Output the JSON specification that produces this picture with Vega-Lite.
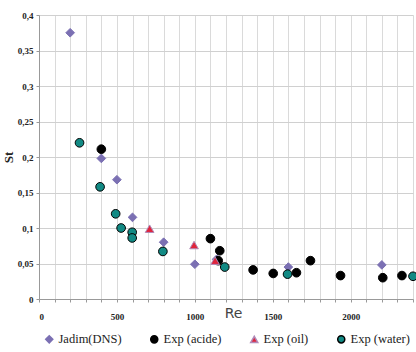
{
  "$schema": "https://vega.github.io/schema/vega-lite/v6.json",
  "width": 374,
  "height": 284,
  "autosize": "none",
  "padding": {"left": 39, "top": 15, "right": 3, "bottom": 53},
  "background": "white",
  "config": {"view": {"stroke": null}},
  "data": {"values": [
    {"Re": 200, "St": 0.375, "series": "Jadim(DNS)"},
    {"Re": 400, "St": 0.198, "series": "Jadim(DNS)"},
    {"Re": 500, "St": 0.168, "series": "Jadim(DNS)"},
    {"Re": 600, "St": 0.115, "series": "Jadim(DNS)"},
    {"Re": 800, "St": 0.08, "series": "Jadim(DNS)"},
    {"Re": 1000, "St": 0.049, "series": "Jadim(DNS)"},
    {"Re": 1140, "St": 0.056, "series": "Jadim(DNS)"},
    {"Re": 1600, "St": 0.045, "series": "Jadim(DNS)"},
    {"Re": 2200, "St": 0.048, "series": "Jadim(DNS)"},
    {"Re": 400, "St": 0.211, "series": "Exp (acide)"},
    {"Re": 1100, "St": 0.085, "series": "Exp (acide)"},
    {"Re": 1160, "St": 0.068, "series": "Exp (acide)"},
    {"Re": 1150, "St": 0.054, "series": "Exp (acide)"},
    {"Re": 1374, "St": 0.041, "series": "Exp (acide)"},
    {"Re": 1503, "St": 0.036, "series": "Exp (acide)"},
    {"Re": 1652, "St": 0.037, "series": "Exp (acide)"},
    {"Re": 1742, "St": 0.054, "series": "Exp (acide)"},
    {"Re": 1935, "St": 0.033, "series": "Exp (acide)"},
    {"Re": 2206, "St": 0.030, "series": "Exp (acide)"},
    {"Re": 2329, "St": 0.033, "series": "Exp (acide)"},
    {"Re": 710, "St": 0.099, "series": "Exp (oil)"},
    {"Re": 995, "St": 0.076, "series": "Exp (oil)"},
    {"Re": 1130, "St": 0.054, "series": "Exp (oil)"},
    {"Re": 260, "St": 0.22, "series": "Exp (water)"},
    {"Re": 392, "St": 0.158, "series": "Exp (water)"},
    {"Re": 492, "St": 0.12, "series": "Exp (water)"},
    {"Re": 527, "St": 0.1, "series": "Exp (water)"},
    {"Re": 598, "St": 0.094, "series": "Exp (water)"},
    {"Re": 598, "St": 0.086, "series": "Exp (water)"},
    {"Re": 795, "St": 0.067, "series": "Exp (water)"},
    {"Re": 1192, "St": 0.045, "series": "Exp (water)"},
    {"Re": 1595, "St": 0.035, "series": "Exp (water)"},
    {"Re": 2400, "St": 0.032, "series": "Exp (water)"}
  ]},
  "mark": {"type": "point", "filled": true, "opacity": 1, "size": 75, "strokeWidth": 1},
  "encoding": {
    "x": {
      "field": "Re", "type": "quantitative",
      "scale": {"domain": [0, 2400], "nice": false},
      "axis": {
        "values": [0,100,200,300,400,500,600,700,800,900,1000,1100,1200,1300,1400,1500,1600,1700,1800,1900,2000,2100,2200,2300,2400],
        "labelExpr": "datum.value % 500 == 0 ? datum.label : ''",
        "format": "d",
        "title": "Re",
        "titleFont": "DejaVu Sans", "titleFontSize": 14, "titleFontWeight": "normal", "titleColor": "#444",
        "titleX": 194, "titleY": 7,
        "labelFont": "Liberation Serif", "labelFontSize": 9, "labelFontWeight": "bold", "labelColor": "#222",
        "labelPadding": 10,
        "gridColor": "#dadada", "gridWidth": 1,
        "domainColor": "#999", "tickColor": "#999", "tickSize": 3
      }
    },
    "y": {
      "field": "St", "type": "quantitative",
      "scale": {"domain": [0, 0.4], "nice": false},
      "axis": {
        "values": [0, 0.05, 0.1, 0.15, 0.2, 0.25, 0.3, 0.35, 0.4],
        "labelExpr": "replace(format(datum.value, '.2~f'), '.', ',')",
        "title": "St",
        "titleFont": "Liberation Serif", "titleFontSize": 13, "titleFontWeight": "bold", "titleColor": "#222",
        "titleX": -24, "titleY": 142,
        "labelFont": "Liberation Serif", "labelFontSize": 9, "labelFontWeight": "bold", "labelColor": "#222",
        "labelPadding": 3,
        "gridColor": "#d0d0d0", "gridWidth": 1.2,
        "domainColor": "#999", "tickColor": "#999", "tickSize": 3
      }
    },
    "fill": {
      "field": "series", "type": "nominal",
      "scale": {"domain": ["Jadim(DNS)", "Exp (acide)", "Exp (oil)", "Exp (water)"], "range": ["#7b70b3", "#000000", "#e0243c", "#128a84"]},
      "legend": {
        "orient": "none", "direction": "horizontal", "columns": 4,
        "legendX": 4, "legendY": 318, "title": null,
        "labelFont": "Liberation Serif", "labelFontSize": 12.5, "labelColor": "#222",
        "symbolSize": 50, "columnPadding": 25, "labelOffset": 3
      }
    },
    "stroke": {
      "field": "series", "type": "nominal",
      "scale": {"domain": ["Jadim(DNS)", "Exp (acide)", "Exp (oil)", "Exp (water)"], "range": ["#7b70b3", "#000000", "#b08ab8", "#000000"]}
    },
    "shape": {
      "field": "series", "type": "nominal",
      "scale": {"domain": ["Jadim(DNS)", "Exp (acide)", "Exp (oil)", "Exp (water)"], "range": ["diamond", "circle", "triangle-up", "circle"]}
    }
  }
}
